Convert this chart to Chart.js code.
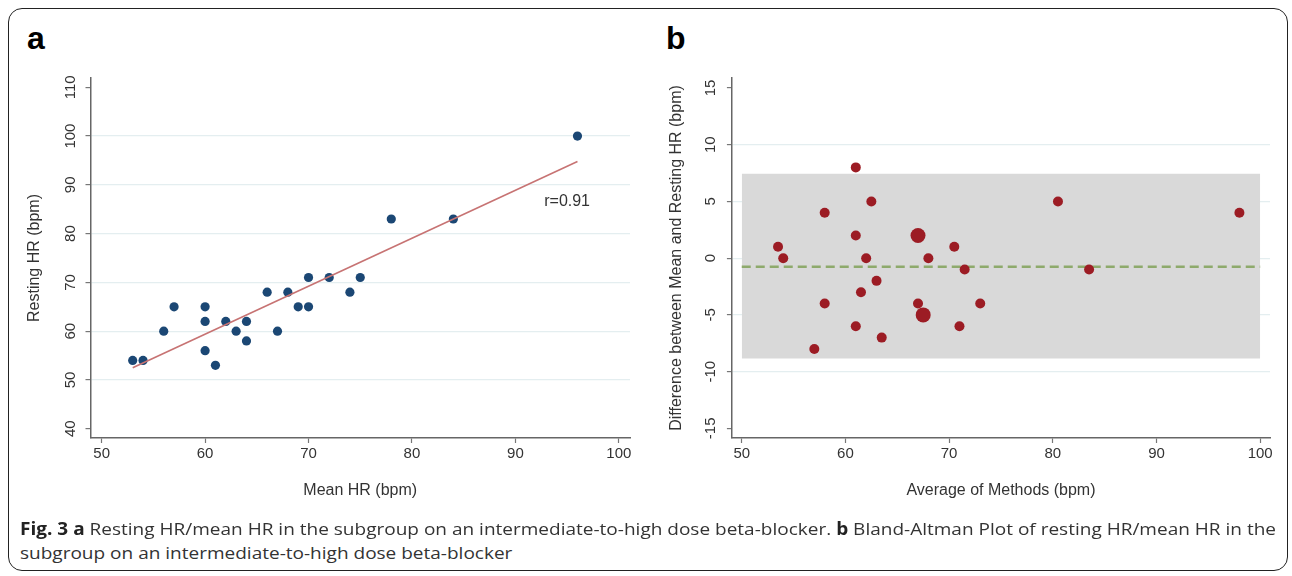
<html lang="en">
<head>
  <meta charset="utf-8">
  <script src="https://cdn.jsdelivr.net/npm/chart.js"></script>
  <style>
    body { margin: 0; background: #fff; width: 1292px; height: 576px; position: relative; overflow: hidden; }
    .frame { position: absolute; left: 8px; top: 8px; width: 1280px; height: 563px; border: 1.5px solid #222; border-radius: 14px; box-sizing: border-box; }
    .panel { position: absolute; font-family: "Liberation Sans", Arial, sans-serif; font-weight: bold; font-size: 32px; color: #000; }
    .box { position: absolute; top: 60px; height: 460px; }
    .cap { position: absolute; left: 20px; font-family: "Open Sans", sans-serif; font-size: 17px; color: #333; white-space: nowrap; transform-origin: 0 0; }
    .cap b { font-weight: 700; color: #222; }
  </style>
</head>
<body>
  <div class="frame"></div>
  <div class="panel" style="left:27px; top:20px;">a</div>
  <div class="panel" style="left:666px; top:20px;">b</div>

  <div class="box" style="left:0px; width:645px;"><canvas id="graphA"></canvas></div>
  <div class="box" style="left:645px; width:640px;"><canvas id="graphB"></canvas></div>

  <div class="cap" id="cap1" style="top:517px;"><b>Fig. 3 a</b> Resting HR/mean HR in the subgroup on an intermediate-to-high dose beta-blocker. <b>b</b> Bland-Altman Plot of resting HR/mean HR in the</div>
  <div class="cap" id="cap2" style="top:541px;">subgroup on an intermediate-to-high dose beta-blocker</div>

  <script>
    // panel a : resting vs mean HR
    const meanHR = [53, 54, 56, 57, 60, 60, 60, 61, 62, 63, 64, 64, 66, 67, 68, 69, 70, 70, 72, 74, 75, 78, 84, 96];
    const restHR = [54, 54, 60, 65, 65, 62, 56, 53, 62, 60, 62, 58, 68, 60, 68, 65, 71, 65, 71, 68, 71, 83, 83, 100];
    const fitX = [53, 96];
    const fitY = [52.5, 94.8];
    const rLabel = 'r=0.91';
    const xTicks = [50, 60, 70, 80, 90, 100];
    const yTicksA = [40, 50, 60, 70, 80, 90, 100, 110];

    // panel b : Bland-Altman
    const avgMethods = [53.5, 54, 58, 61, 62.5, 61, 58, 57, 62, 61.5, 63, 61, 67, 63.5, 68, 67, 70.5, 67.5, 71.5, 71, 73, 80.5, 83.5, 98];
    const diffHR = [1, 0, 4, 8, 5, 2, -4, -8, 0, -3, -2, -6, 2, -7, 0, -4, 1, -5, -1, -6, -4, 5, -1, 4];
    const countB = [1, 1, 1, 1, 1, 1, 1, 1, 1, 1, 1, 1, 2, 1, 1, 1, 1, 2, 1, 1, 1, 1, 1, 1];
    const meanDiff = -0.75;
    const upperLoA = 7.45;
    const lowerLoA = -8.85;
    const yTicksB = [-15, -10, -5, 0, 5, 10, 15];

    const tickFont = { family: '"Liberation Sans", Arial, sans-serif', size: 15 };
    const titleFont = { family: '"Liberation Sans", Arial, sans-serif', size: 16 };
    const gridCol = '#e4eef0';

    function xy(xs, ys) {
      return xs.map((x, i) => ({ x: x, y: ys[i] }));
    }

    function fixTicks(list) {
      return function (scale) { scale.ticks = list.map(v => ({ value: v })); };
    }

    // text label drawn at data coords
    const textPlugin = {
      id: 'rtext',
      afterDatasetsDraw(chart, args, opts) {
        if (!opts.text) return;
        const c = chart.ctx;
        c.save();
        c.font = '16px "Liberation Sans", Arial, sans-serif';
        c.fillStyle = '#333';
        c.textAlign = 'center';
        c.textBaseline = 'middle';
        c.fillText(opts.text, chart.scales.x.getPixelForValue(opts.x), chart.scales.y.getPixelForValue(opts.y));
        c.restore();
      }
    };

    function scalesFor(xmin, xmax, ymin, ymax, yList, yWidth, yTitle, yTitlePad, yPad) {
      const inner = yList.slice(1, -1);
      return {
        x: {
          type: 'linear', min: xmin, max: xmax,
          afterBuildTicks: fixTicks(xTicks),
          afterFit(scale) { scale.height = 82; },
          grid: { color: 'rgba(0,0,0,0)', drawTicks: true, tickLength: 5, tickColor: '#777', tickWidth: 1.2 },
          border: { display: true, color: '#666', width: 1.5 },
          ticks: { font: tickFont, color: '#333', padding: 2, maxRotation: 0, autoSkip: false },
          title: { display: true, text: 'Mean HR (bpm)', font: titleFont, color: '#333', padding: { top: 0, bottom: 19.7 } }
        },
        y: {
          type: 'linear', min: ymin, max: ymax,
          afterBuildTicks: fixTicks(yList),
          afterFit(scale) { scale.width = yWidth; },
          grid: {
            color: ctx => (ctx.tick && inner.includes(ctx.tick.value)) ? gridCol : 'rgba(0,0,0,0)',
            lineWidth: 1.2, drawTicks: true, tickLength: 5, tickColor: '#777', tickWidth: 1.2
          },
          border: { display: true, color: '#666', width: 1.5 },
          ticks: { font: tickFont, color: '#333', padding: yPad, minRotation: 90, maxRotation: 90, crossAlign: 'center', autoSkip: false },
          title: { display: true, text: yTitle, font: titleFont, color: '#333', padding: { top: yTitlePad, bottom: 0 } }
        }
      };
    }

    // Graphique a
    const sA = scalesFor(48.92, 101.08, 38.1, 111.9, yTicksA, 90.5, 'Resting HR (bpm)', 25.4, 2.5);
    new Chart(document.getElementById('graphA'), {
      type: 'scatter',
      data: {
        datasets: [{
          type: 'line',
          data: xy(fitX, fitY),
          borderColor: '#c77373',
          borderWidth: 1.6,
          pointRadius: 0,
          fill: false
        }, {
          data: xy(meanHR, restHR),
          backgroundColor: '#1b4774',
          borderWidth: 0,
          pointRadius: 4.6
        }]
      },
      options: {
        responsive: true,
        maintainAspectRatio: false,
        animation: false,
        layout: { padding: { left: 0, right: 15, top: 18, bottom: 0 } },
        plugins: {
          legend: { display: false },
          tooltip: { enabled: false },
          rtext: { text: rLabel, x: 95, y: 86.5 }
        },
        scales: sA
      },
      plugins: [textPlugin]
    });

    // Graphique b
    const sB = scalesFor(49.05, 100.95, -15.85, 15.88, yTicksB, 86.9, 'Difference between Mean and Resting HR (bpm)', 22, 5);
    sB.x.title.text = 'Average of Methods (bpm)';
    new Chart(document.getElementById('graphB'), {
      type: 'scatter',
      data: {
        datasets: [{
          type: 'line',
          data: xy([50, 100], [upperLoA, upperLoA]),
          borderWidth: 0,
          pointRadius: 0,
          backgroundColor: '#d9d9d9',
          fill: '+1',
          order: 3
        }, {
          type: 'line',
          data: xy([50, 100], [lowerLoA, lowerLoA]),
          borderWidth: 0,
          pointRadius: 0,
          fill: false,
          order: 3
        }, {
          type: 'line',
          data: xy([50, 100], [meanDiff, meanDiff]),
          borderColor: '#8eaa6c',
          borderWidth: 2.5,
          borderDash: [9, 5],
          pointRadius: 0,
          fill: false,
          order: 2
        }, {
          data: xy(avgMethods, diffHR),
          backgroundColor: '#9c1c24',
          borderWidth: 0,
          pointRadius: ctx => countB[ctx.dataIndex] > 1 ? 7.5 : 5,
          order: 1
        }]
      },
      options: {
        responsive: true,
        maintainAspectRatio: false,
        animation: false,
        layout: { padding: { left: 0, right: 15, top: 18, bottom: 0 } },
        plugins: {
          legend: { display: false },
          tooltip: { enabled: false },
          filler: { drawTime: 'beforeDatasetsDraw' }
        },
        scales: sB
      }
    });

    // same horizontal scale for both caption lines, taken from line 1
    const cap1 = document.getElementById('cap1');
    const k = 1256 / cap1.getBoundingClientRect().width;
    cap1.style.transform = 'scaleX(' + k + ')';
    document.getElementById('cap2').style.transform = 'scaleX(' + k + ')';
  </script>
</body>
</html>
